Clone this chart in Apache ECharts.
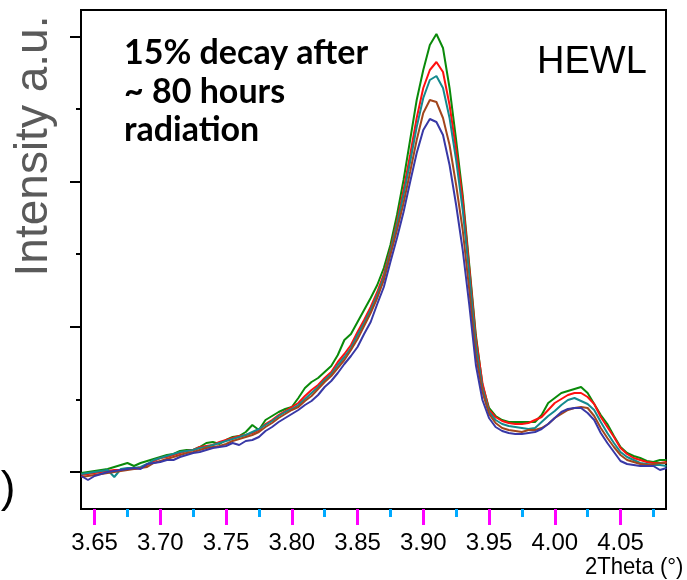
<!DOCTYPE html>
<html>
<head>
<meta charset="utf-8">
<script src="https://cdn.jsdelivr.net/npm/echarts@6/dist/echarts.min.js"></script>
<style>
html,body{margin:0;padding:0;background:#fff;}
#chart{width:687px;height:580px;}
</style>
</head>
<body>
<div id="chart"></div>
<script>
// 2Theta grid (degrees)
const twoTheta = [3.640,3.645,3.650,3.655,3.660,3.665,3.670,3.675,3.680,3.685,
 3.690,3.695,3.700,3.705,3.710,3.715,3.720,3.725,3.730,3.735,
 3.740,3.745,3.750,3.755,3.760,3.765,3.770,3.775,3.780,3.785,
 3.790,3.795,3.800,3.805,3.810,3.815,3.820,3.825,3.830,3.835,
 3.840,3.845,3.850,3.855,3.860,3.865,3.870,3.875,3.880,3.885,
 3.890,3.895,3.900,3.905,3.910,3.915,3.920,3.925,3.930,3.935,
 3.940,3.945,3.950,3.955,3.960,3.965,3.970,3.975,3.980,3.985,
 3.990,3.995,4.000,4.005,4.010,4.015,4.020,4.025,4.030,4.035,
 4.040,4.045,4.050,4.055,4.060,4.065,4.070,4.075,4.080,4.085];

// Intensity (a.u.) for the five scans
const scanGreen = [-1,0,1,2,3,5,7,9,6,9,
 11,13,15,17,18,21,22,22,25,29,
 30,28,32,35,36,40,47,42,52,56,
 60,63,65,74,84,90,94,100,106,117,
 132,138,150,162,174,187,204,227,257,292,
 332,372,402,427,438,424,384,332,277,207,
 137,87,64,56,52,50,50,50,50,50,
 57,69,74,79,81,83,85,79,68,57,
 48,36,25,19,16,14,11,10,12,12];
const scanRed = [-3,-2,-1,0,1,2,2,3,3,4,
 7,11,14,15,17,19,21,22,25,26,
 27,30,32,34,36,37,39,42,48,52,
 57,61,65,69,76,82,87,94,100,110,
 118,127,140,152,165,180,198,222,250,282,
 317,354,384,402,410,400,367,322,272,204,
 134,89,62,55,51,49,48,48,49,52,
 55,62,69,73,77,79,79,75,68,55,
 45,35,24,18,14,12,10,9,9,10];
const scanTeal = [-2,-1,0,1,2,-5,3,4,4,5,
 8,12,14,16,18,20,21,22,24,25,
 27,29,31,33,35,37,40,43,47,51,
 56,60,63,67,73,79,85,92,98,107,
 115,124,137,149,162,177,195,220,247,277,
 310,345,374,392,396,384,354,312,262,197,
 127,84,60,52,48,46,45,44,43,44,
 50,56,61,67,72,74,71,68,62,50,
 39,29,20,15,12,9,8,7,7,6];
const scanBrown = [-5,-4,-3,-2,-1,0,1,2,3,4,
 5,9,11,13,15,17,19,20,22,24,
 25,26,28,31,33,35,37,40,45,49,
 54,58,62,65,71,76,83,90,96,104,
 112,122,133,146,159,174,192,217,242,269,
 300,332,359,372,370,354,327,287,242,182,
 117,80,58,49,44,42,41,40,42,42,
 44,48,54,58,62,64,65,64,56,44,
 34,25,17,12,10,8,7,8,9,9];
const scanBlue = [-4,-8,-4,-2,0,1,2,3,4,3,
 8,9,10,12,12,15,17,19,20,22,
 24,25,26,29,27,31,32,35,41,45,
 50,54,58,62,67,71,77,85,91,99,
 108,116,125,138,150,168,185,210,234,260,
 290,319,342,353,350,337,307,267,222,167,
 107,72,54,45,41,39,38,38,39,40,
 43,48,54,60,63,64,64,59,52,39,
 29,20,11,8,7,6,6,6,2,4];

// axis ticks
const xMajorTicks = [3.65,3.70,3.75,3.80,3.85,3.90,3.95,4.00,4.05];
const xMinorTicks = [3.675,3.725,3.775,3.825,3.875,3.925,3.975,4.025,4.075];
const yMajorTicks = [0,145.2,290.4,435.6];
const yMinorTicks = [72.6,217.8,363];

const seriesDefs = [
  {name:'scan 1', data:scanGreen, color:'#0a8a0a'},
  {name:'scan 2', data:scanRed, color:'#ff1010'},
  {name:'scan 3', data:scanTeal, color:'#138a8e'},
  {name:'scan 4', data:scanBrown, color:'#a2461c'},
  {name:'scan 5', data:scanBlue, color:'#3838a6'}
];

const X_MIN = 3.6397, X_MAX = 4.0846, Y_MIN = -37, Y_MAX = 462;
const sans = '"Liberation Sans",Arial,sans-serif';

const chart = echarts.init(document.getElementById('chart'), null, {renderer:'canvas'});
chart.setOption({
  animation:false,
  backgroundColor:'#fff',
  grid:{left:81, right:21, top:10, bottom:71, show:true, borderColor:'#000', borderWidth:2},
  xAxis:[
    {type:'value', min:X_MIN, max:X_MAX, position:'bottom',
     axisLine:{show:true, onZero:false, lineStyle:{color:'#000', width:2}},
     axisTick:{show:true, customValues:xMajorTicks, length:16, lineStyle:{color:'#ff00ff', width:3}},
     axisLabel:{show:true, customValues:xMajorTicks, margin:22, color:'#000', fontSize:24,
       formatter:function(v){return v.toFixed(2);}},
     splitLine:{show:false}},
    {type:'value', min:X_MIN, max:X_MAX, position:'bottom',
     axisLine:{show:false, onZero:false},
     axisTick:{show:true, customValues:xMinorTicks, length:8, lineStyle:{color:'#00aaff', width:3}},
     axisLabel:{show:false}, splitLine:{show:false}}
  ],
  yAxis:[
    {type:'value', min:Y_MIN, max:Y_MAX, position:'left',
     axisLine:{show:true, onZero:false, lineStyle:{color:'#000', width:2}},
     axisTick:{show:true, customValues:yMajorTicks, length:11, lineStyle:{color:'#000', width:2}},
     axisLabel:{show:false}, splitLine:{show:false}},
    {type:'value', min:Y_MIN, max:Y_MAX, position:'left',
     axisLine:{show:false, onZero:false},
     axisTick:{show:true, customValues:yMinorTicks, length:5, lineStyle:{color:'#000', width:2}},
     axisLabel:{show:false}, splitLine:{show:false}}
  ],
  series: seriesDefs.map(function(s){
    return {name:s.name, type:'line', xAxisIndex:0, yAxisIndex:0, symbol:'none',
      lineStyle:{color:s.color, width:2}, itemStyle:{color:s.color},
      data: twoTheta.map(function(x,i){return [x, s.data[i]];})};
  })
});

chart.setOption({
  graphic:[
    {type:'text', x:34, y:146, rotation:Math.PI/2,
     style:{text:'Intensity a.u.', fill:'#5a5a5a', fontSize:46, fontFamily:sans,
       textAlign:'center', textVerticalAlign:'middle'}},
    {type:'text', x:8, y:490,
     style:{text:')', fill:'#000', fontSize:44, fontFamily:sans,
       textAlign:'center', textVerticalAlign:'middle'}},
    {type:'text', x:124, y:34,
     style:{text:'15% decay after\n~ 80 hours\nradiation', fill:'#000', fontSize:34, fontWeight:'bold',
       fontFamily:'Lato,"Open Sans",sans-serif', lineHeight:38.5, textAlign:'left', textVerticalAlign:'top'}},
    {type:'text', x:537, y:63,
     style:{text:'HEWL', fill:'#000', fontSize:38, fontFamily:sans,
       textAlign:'left', textVerticalAlign:'middle'}},
    {type:'text', x:585, y:567, scaleX:0.92,
     style:{text:'2Theta (°)', fill:'#000', fontSize:24, fontFamily:sans,
       textAlign:'left', textVerticalAlign:'middle'}}
  ]
});
</script>
</body>
</html>
